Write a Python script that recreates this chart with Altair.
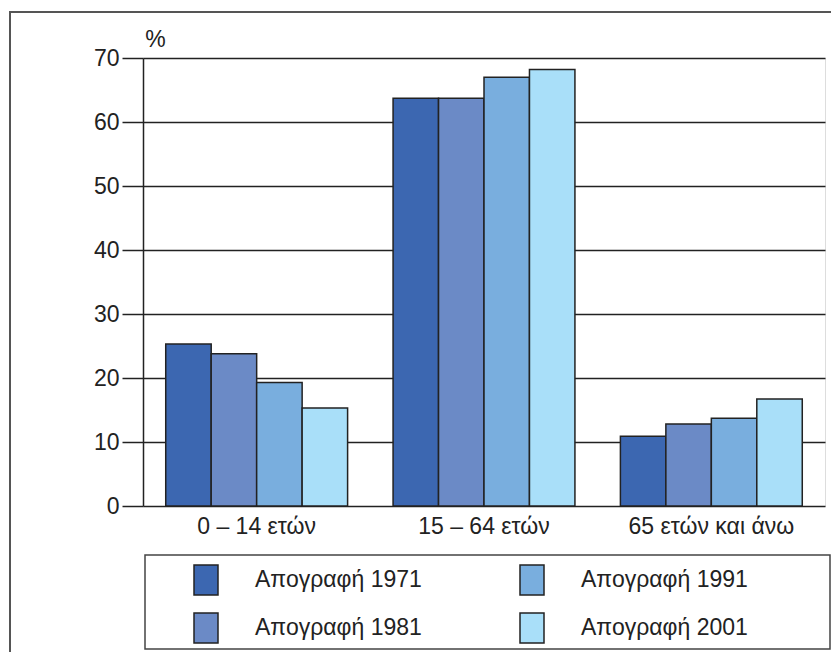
import altair as alt
import pandas as pd

groups = ["0 – 14 ετών", "15 – 64 ετών", "65 ετών και άνω"]
series = ["Απογραφή 1971", "Απογραφή 1981", "Απογραφή 1991", "Απογραφή 2001"]
v1971 = [25.3, 63.7, 10.9]
v1981 = [23.8, 63.7, 12.8]
v1991 = [19.3, 67.0, 13.7]
v2001 = [15.3, 68.2, 16.7]
colors = ["#3c67b1", "#6b8ac6", "#79aede", "#a9dff9"]
y_ticks = [0, 10, 20, 30, 40, 50, 60, 70]

rows = []
for s, vals in zip(series, [v1971, v1981, v1991, v2001]):
    for g, v in zip(groups, vals):
        rows.append({"group": g, "series": s, "value": v})
df = pd.DataFrame(rows)

FONT = "Liberation Sans"
INK = "#222222"
FS = 23

bars = alt.Chart(df).mark_bar(stroke=INK, strokeWidth=1.5).encode(
    x=alt.X(
        "group:N",
        sort=groups,
        scale=alt.Scale(paddingInner=0.2, paddingOuter=0.1),
        axis=alt.Axis(
            title=None, ticks=False, domain=False, labelAngle=0,
            labelFontSize=FS, labelColor=INK, labelPadding=9, labelFont=FONT,
        ),
    ),
    xOffset=alt.XOffset("series:N", sort=series, scale=alt.Scale(paddingInner=0, paddingOuter=0)),
    y=alt.Y(
        "value:Q",
        scale=alt.Scale(domain=[0, 70], nice=False),
        axis=alt.Axis(
            values=y_ticks, title="%", titleAngle=0, titleX=12, titleY=-19,
            titleAlign="center", titleBaseline="middle", titleFontSize=FS,
            titleFontWeight="normal", titleColor=INK, titleFont=FONT,
            tickSize=21, tickColor=INK, tickWidth=1.5,
            domainColor=INK, domainWidth=1.5,
            grid=True, gridColor=INK, gridWidth=1.5,
            labelFontSize=FS, labelColor=INK, labelPadding=3, labelFont=FONT,
        ),
    ),
    color=alt.Color(
        "series:N",
        scale=alt.Scale(domain=series, range=colors),
        legend=alt.Legend(
            title=None, orient="none", legendX=47, legendY=506, columns=2,
            columnPadding=94, rowPadding=12,
            symbolType="M-0.8,-1H0.8V1H-0.8Z", symbolSize=900,
            symbolStrokeColor=INK, symbolStrokeWidth=1.5, symbolOpacity=1,
            labelFontSize=FS, labelColor=INK, labelOffset=33, labelFont=FONT,
            labelLimit=400, padding=0,
        ),
    ),
)

one = pd.DataFrame({"k": [0]})
legend_box = alt.Chart(one).mark_rect(fill="white", fillOpacity=0, stroke="#444444", strokeWidth=1.5).encode(
    x=alt.value(2), x2=alt.value(687), y=alt.value(497), y2=alt.value(591)
)
frame_left = alt.Chart(one).mark_rule(color="#555555", strokeWidth=2).encode(
    x=alt.value(-133), y=alt.value(-46), y2=alt.value(600)
)
frame_top = alt.Chart(one).mark_rule(color="#555555", strokeWidth=2).encode(
    x=alt.value(-134), x2=alt.value(700), y=alt.value(-46)
)

chart = alt.layer(legend_box, bars, frame_left, frame_top).properties(
    width=682,
    height=448,
    autosize=alt.AutoSizeParams(type="none"),
    padding={"left": 135, "top": 50, "right": 6, "bottom": 146},
).configure_view(
    stroke=INK, strokeWidth=1.5
).configure(
    font=FONT
)

chart.save("out.html", embed_options={"renderer": "svg", "actions": False})
